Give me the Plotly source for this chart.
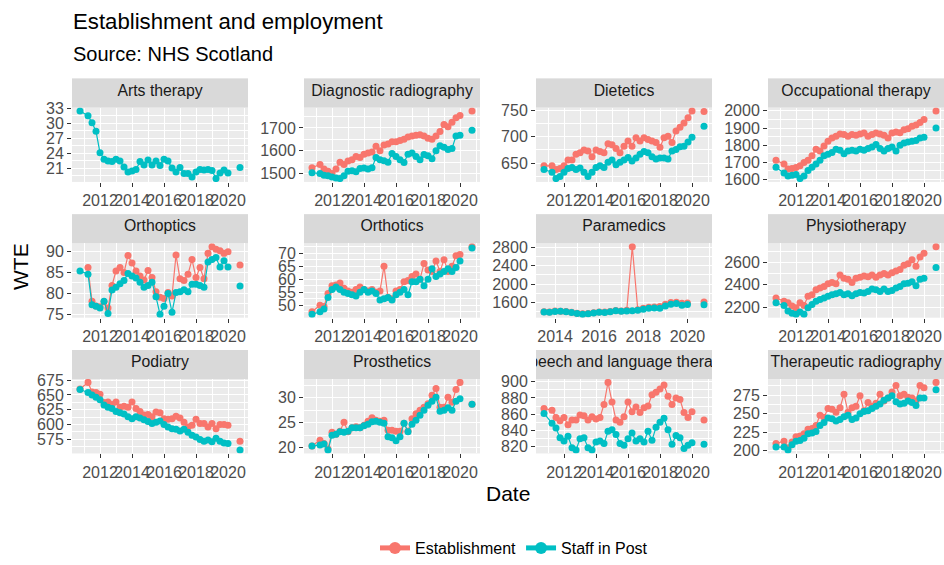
import plotly.graph_objects as go

FIG_W, FIG_H = 944, 565
FONT = "Liberation Sans, Arial, sans-serif"
EST_COLOR = "#F8766D"
STAFF_COLOR = "#00BFC4"

# Quarter-end positions (decimal years); the final figure follows a gap in the series
QUARTERS = [2010.75, 2011.25, 2011.5, 2011.75, 2012.0, 2012.25, 2012.5, 2012.75,
            2013.0, 2013.25, 2013.5, 2013.75, 2014.0, 2014.25, 2014.5, 2014.75,
            2015.0, 2015.25, 2015.5, 2015.75, 2016.0, 2016.25, 2016.5, 2016.75,
            2017.0, 2017.25, 2017.5, 2017.75, 2018.0, 2018.25, 2018.5, 2018.75,
            2019.0, 2019.25, 2019.5, 2019.75, 2020.0, 2020.75]
PARAMEDIC_QUARTERS = [2013.5, 2013.75, 2014.0, 2014.25, 2014.5, 2014.75, 2015.0,
                      2015.25, 2015.5, 2015.75, 2016.0, 2016.25, 2016.5, 2016.75,
                      2017.0, 2017.25, 2017.5, 2017.75, 2018.0, 2018.25, 2018.5,
                      2018.75, 2019.0, 2019.25, 2019.5, 2019.75, 2020.0, 2020.75]

YEAR_TICKS = [2012, 2014, 2016, 2018, 2020]
PARAMEDIC_YEAR_TICKS = [2014, 2016, 2018, 2020]

# Whole-time-equivalent figures by profession
ARTS_EST = [None] * 38
ARTS_STAFF = [32.5, 31.5, 30.1, 28.4, 24.1, 22.8, 22.4, 22.3, 22.8, 22.4, 21.2, 20.2,
              20.4, 20.7, 22.3, 21.6, 22.6, 21.6, 22.4, 21.5, 22.8, 22.4, 21.0, 20.2,
              21.1, 19.9, 19.9, 19.2, 20.2, 20.7, 20.6, 20.7, 20.5, 18.9, 20.0, 20.6,
              20.0, 21.1]

DIAG_EST = [1525, 1540, 1520, 1510, 1500, 1520, 1550, 1540, 1555, 1560, 1575, 1570,
            1585, 1590, 1595, 1620, 1600, 1625, 1630, 1640, 1640, 1645, 1650, 1660,
            1665, 1668, 1670, 1665, 1655, 1650, 1665, 1685, 1715, 1705, 1725, 1745,
            1755, 1775]
DIAG_STAFF = [1503, 1500, 1492, 1490, 1485, 1480, 1478, 1490, 1510, 1512, 1508, 1522,
              1524, 1520, 1525, 1570, 1560, 1556, 1550, 1588, 1575, 1560, 1548, 1585,
              1590, 1575, 1560, 1583, 1578, 1565, 1600, 1622, 1615, 1605, 1610, 1665,
              1668, 1690]

DIET_EST = [645, 645, 638, 640, 645, 656, 656, 667, 670, 675, 673, 662, 675, 672,
            670, 687, 685, 678, 670, 682, 692, 682, 698, 692, 698, 695, 692, 689,
            680, 698, 701, 689, 711, 718, 726, 736, 749, 748]
DIET_STAFF = [638, 633, 621, 625, 633, 640, 642, 638, 641, 633, 625, 633, 642, 645,
              642, 652, 656, 647, 652, 656, 661, 654, 660, 667, 672, 670, 662, 658,
              660, 660, 658, 673, 676, 681, 682, 690, 699, 720]

OT_EST = [1713, 1690, 1662, 1665, 1670, 1680, 1700, 1713, 1738, 1776, 1766, 1795,
          1823, 1842, 1852, 1866, 1862, 1852, 1862, 1858, 1866, 1871, 1852, 1862,
          1871, 1866, 1858, 1842, 1871, 1877, 1872, 1890, 1896, 1910, 1918, 1933,
          1950, 2000]
OT_STAFF = [1672, 1638, 1620, 1625, 1630, 1606, 1620, 1653, 1672, 1690, 1713, 1738,
            1748, 1757, 1776, 1770, 1751, 1766, 1770, 1766, 1776, 1770, 1781, 1789,
            1804, 1781, 1766, 1781, 1789, 1766, 1800, 1813, 1819, 1823, 1827, 1842,
            1846, 1900]

ORTHOPTICS_EST = [None, 86.2, 78.1, 77.0, 76.8, 78.0, 76.5, 81.9, 85.4, 86.2, 85.0,
                  89.1, 87.3, 85.4, 84.2, 83.2, 85.5, 83.8, 80.4, 79.1, 78.8, 80.2,
                  79.4, 89.2, 83.5, 83.1, 84.6, 88.1, 83.8, 86.2, 83.5, 89.6, 91.2,
                  90.6, 90.2, 89.6, 90.0, 86.8]
ORTHOPTICS_STAFF = [85.4, 84.6, 77.3, 76.9, 76.5, 78.1, 75.2, 80.8, 81.5, 82.3, 83.1,
                    84.8, 84.2, 83.7, 82.7, 81.5, 81.9, 82.7, 79.2, 75.0, 76.9, 80.0,
                    75.5, 80.2, 80.4, 80.9, 80.4, 82.2, 82.2, 81.9, 81.5, 87.5, 88.1,
                    88.6, 86.3, 87.8, 86.3, 81.8]

ORTHOTICS_EST = [47.5, 50, 49.5, 54.5, 57.5, 57.8, 58.5, 56.5, 55.5, 55, 56, 57, 56,
                 55.5, 56, 55, 55.5, 65, 53, 52.5, 55.5, 56, 59, 59.5, 61, 62, 60, 66,
                 63.5, 63, 67, 63, 67.5, 63, 65, 69, 69.5, 72.5]
ORTHOTICS_STAFF = [46.5, 47.5, 48.5, 53, 56, 57, 56, 55, 54.5, 54, 53.5, 55, 56, 55,
                   55.5, 54.5, 52, 52.5, 53, 52, 54, 55, 56, 54, 59, 59, 60, 57.5, 60,
                   64, 61, 62, 63, 64, 63, 64.5, 67, 72]

PARAMEDIC_EST = [1395, 1390, 1410, 1405, 1400, 1385, 1365, 1350, 1360, 1375, 1390,
                 1390, 1400, 1425, 1410, 1430, 2820, 1440, 1470, 1495, 1500, 1510,
                 1560, 1600, 1605, 1580, 1590, 1610]
PARAMEDIC_STAFF = [1390, 1385, 1400, 1405, 1395, 1380, 1360, 1340, 1350, 1370, 1385,
                   1380, 1395, 1420, 1405, 1415, 1420, 1430, 1450, 1470, 1480, 1475,
                   1520, 1560, 1575, 1540, 1555, 1550]

PHYSIO_EST = [2282, 2253, 2240, 2209, 2194, 2238, 2215, 2297, 2312, 2356, 2371, 2385,
              2409, 2421, 2409, 2488, 2459, 2450, 2421, 2459, 2468, 2479, 2473, 2488,
              2468, 2488, 2503, 2488, 2509, 2526, 2538, 2576, 2591, 2626, 2568, 2650,
              2685, 2744]
PHYSIO_STAFF = [2238, 2215, 2165, 2144, 2135, 2156, 2135, 2194, 2224, 2253, 2268, 2282,
                2297, 2312, 2320, 2332, 2312, 2320, 2303, 2321, 2332, 2326, 2341, 2362,
                2356, 2341, 2362, 2341, 2350, 2371, 2385, 2409, 2415, 2429, 2391, 2450,
                2459, 2556]

PODIATRY_EST = [660, 671, 655, 654, 651, 637, 638, 634, 638, 629, 631, 629, 638, 627,
                622, 616, 617, 613, 621, 620, 610, 609, 610, 614, 611, 604, 596, 599,
                609, 602, 602, 596, 602, 593, 600, 600, 599, 572]
PODIATRY_STAFF = [659, 654, 650, 646, 642, 633, 629, 627, 622, 620, 618, 613, 610, 613,
                  611, 608, 605, 602, 604, 606, 600, 596, 593, 592, 589, 592, 587, 582,
                  579, 575, 572, 574, 571, 577, 572, 569, 568, 557]

PROSTHETICS_EST = [20.3, 21.5, 20.8, 19.7, 23.1, 22.7, 23.3, 25.1, 23.2, 24.0, 24.2,
                   24.0, 24.5, 25.3, 26.0, 25.5, 25.3, 25.5, 23.5, 23.5, 23.3, 23.3,
                   24.9, 23.3, 25.8, 26.8, 27.5, 28.1, 28.8, 30.5, 31.9, 28.1, 28.1,
                   30.1, 29.1, 31.7, 33.1, 28.7]
PROSTHETICS_STAFF = [20.3, 20.5, 20.7, 19.5, 22.5, 22.7, 23.2, 23.1, 23.3, 24.0, 24.0,
                     24.0, 24.4, 24.7, 25.2, 25.3, 25.1, 24.9, 22.2, 22.0, 21.4, 22.2,
                     24.9, 23.2, 24.7, 25.5, 26.5, 27.5, 28.5, 29.3, 30.1, 27.3, 27.5,
                     28.0, 27.5, 29.3, 29.8, 28.7]

SLT_EST = [867, 865, 856, 852, 856, 847, 853, 853, 859, 858, 853, 857, 854, 856, 872,
           899, 875, 853, 850, 857, 875, 863, 869, 862, 868, 870, 884, 887, 891, 896,
           882, 872, 880, 878, 862, 856, 863, 853]
SLT_STAFF = [861, 849, 843, 831, 827, 833, 819, 816, 830, 831, 819, 816, 826, 827, 824,
             839, 841, 835, 824, 822, 830, 837, 827, 830, 826, 839, 828, 844, 850, 855,
             841, 823, 834, 831, 818, 822, 825, 823]

THER_RAD_EST = [210, 213, 204, 212, 219, 220, 223, 229, 230, 234, 248, 245, 257, 256,
                252, 258, 276, 252, 258, 260, 274, 254, 265, 260, 264, 276, 267, 271,
                279, 288, 274, 276, 272, 271, 267, 288, 285, 292]
THER_RAD_STAFF = [205, 205, 201, 208, 213, 214, 217, 223, 224, 226, 234, 238, 244, 243,
                  240, 242, 246, 248, 242, 244, 250, 253, 254, 257, 260, 263, 268, 271,
                  274, 266, 263, 264, 267, 265, 261, 271, 271, 282]

PANELS = [
    ("Arts therapy", QUARTERS, ARTS_EST, ARTS_STAFF, YEAR_TICKS, [21, 24, 27, 30, 33]),
    ("Diagnostic radiography", QUARTERS, DIAG_EST, DIAG_STAFF, YEAR_TICKS, [1500, 1600, 1700]),
    ("Dietetics", QUARTERS, DIET_EST, DIET_STAFF, YEAR_TICKS, [650, 700, 750]),
    ("Occupational therapy", QUARTERS, OT_EST, OT_STAFF, YEAR_TICKS, [1600, 1700, 1800, 1900, 2000]),
    ("Orthoptics", QUARTERS, ORTHOPTICS_EST, ORTHOPTICS_STAFF, YEAR_TICKS, [75, 80, 85, 90]),
    ("Orthotics", QUARTERS, ORTHOTICS_EST, ORTHOTICS_STAFF, YEAR_TICKS, [50, 55, 60, 65, 70]),
    ("Paramedics", PARAMEDIC_QUARTERS, PARAMEDIC_EST, PARAMEDIC_STAFF, PARAMEDIC_YEAR_TICKS,
     [1600, 2000, 2400, 2800]),
    ("Physiotherapy", QUARTERS, PHYSIO_EST, PHYSIO_STAFF, YEAR_TICKS, [2200, 2400, 2600]),
    ("Podiatry", QUARTERS, PODIATRY_EST, PODIATRY_STAFF, YEAR_TICKS, [575, 600, 625, 650, 675]),
    ("Prosthetics", QUARTERS, PROSTHETICS_EST, PROSTHETICS_STAFF, YEAR_TICKS, [20, 25, 30]),
    ("Speech and language therapy", QUARTERS, SLT_EST, SLT_STAFF, YEAR_TICKS,
     [820, 840, 860, 880, 900]),
    ("Therapeutic radiography", QUARTERS, THER_RAD_EST, THER_RAD_STAFF, YEAR_TICKS,
     [200, 225, 250, 275]),
]

# Facet grid geometry (pixels)
COL_LEFT = [72, 304, 536, 768]
PANEL_W = 176
ROW_TOP = [104, 244.5, 385]
PANEL_H = 77
STRIP_H = 30


def px_x(v):
    return v / FIG_W


def px_y(v):
    return 1 - v / FIG_H


def with_gap(seq):
    # break the line before the final, detached observation
    return list(seq[:-1]) + [None] + list(seq[-1:])


def padded(values):
    vals = [v for v in values if v is not None]
    lo, hi = min(vals), max(vals)
    pad = 0.05 * (hi - lo)
    return [lo - pad, hi + pad]


def minor_between(ticks):
    step = ticks[1] - ticks[0]
    return [t - step / 2 for t in ticks] + [ticks[-1] + step / 2]


fig = go.Figure()
layout = {}
shapes = []

for i, (name, xs, est, staff, xticks, yticks) in enumerate(PANELS):
    r, c = divmod(i, 4)
    n = i + 1
    sfx = "" if n == 1 else str(n)
    left, top = COL_LEFT[c], ROW_TOP[r]

    for label, vals, color in (("Establishment", est, EST_COLOR),
                               ("Staff in Post", staff, STAFF_COLOR)):
        fig.add_trace(go.Scatter(
            x=with_gap(xs), y=with_gap(vals), mode="lines+markers", name=label,
            legendgroup=label, showlegend=(i == 0), connectgaps=False,
            line=dict(color=color, width=1.2), marker=dict(color=color, size=7),
            xaxis="x" + sfx, yaxis="y" + sfx, hoverinfo="skip"))

    common = dict(showline=False, zeroline=False, ticks="outside", ticklen=4,
                  tickwidth=1.1, tickcolor="#333333", showgrid=True,
                  gridcolor="#FFFFFF", gridwidth=1.1, tickangle=0,
                  tickfont=dict(family=FONT, size=16, color="#4D4D4D"),
                  fixedrange=True, tickmode="array")
    layout["xaxis" + sfx] = dict(
        common, domain=[px_x(left), px_x(left + PANEL_W)], range=padded(xs),
        tickvals=xticks, ticktext=[str(t) for t in xticks], anchor="y" + sfx,
        minor=dict(tickvals=minor_between(xticks), showgrid=True,
                   gridcolor="#FFFFFF", gridwidth=0.55, ticks=""))
    layout["yaxis" + sfx] = dict(
        common, domain=[px_y(top + PANEL_H), px_y(top)], range=padded(est + staff),
        tickvals=yticks, ticktext=[str(t) for t in yticks], anchor="x" + sfx,
        minor=dict(tickvals=minor_between(yticks), showgrid=True,
                   gridcolor="#FFFFFF", gridwidth=0.55, ticks=""))

    # strip: its own hidden subplot so the label is clipped to the strip
    s = 12 + n
    layout[f"xaxis{s}"] = dict(domain=[px_x(left), px_x(left + PANEL_W)], range=[0, 1],
                               visible=False, fixedrange=True, anchor=f"y{s}")
    layout[f"yaxis{s}"] = dict(domain=[px_y(top), px_y(top - STRIP_H)], range=[0, 1],
                               visible=False, fixedrange=True, anchor=f"x{s}")
    fig.add_trace(go.Scatter(
        x=[0.5], y=[0.55], mode="text", text=[name], cliponaxis=True,
        textfont=dict(family=FONT, size=15.8, color="#1A1A1A"),
        xaxis=f"x{s}", yaxis=f"y{s}", showlegend=False, hoverinfo="skip"))
    shapes.append(dict(type="rect", xref="paper", yref="paper", layer="below",
                       x0=px_x(left), x1=px_x(left + PANEL_W),
                       y0=px_y(top), y1=px_y(top - STRIP_H),
                       fillcolor="#D9D9D9", line=dict(width=0)))

annotations = [
    dict(text="Establishment and employment", x=px_x(71), y=px_y(15), xanchor="left",
         yanchor="middle", font=dict(family=FONT, size=22.2, color="#000000")),
    dict(text="Source: NHS Scotland", x=px_x(71), y=px_y(48.5), xanchor="left",
         yanchor="middle", font=dict(family=FONT, size=20, color="#000000")),
    dict(text="WTE", x=px_x(21), y=px_y(269), textangle=-90, xanchor="center",
         yanchor="middle", font=dict(family=FONT, size=21, color="#000000")),
    dict(text="Date", x=px_x(508), y=px_y(503), xanchor="center", yanchor="middle",
         font=dict(family=FONT, size=21, color="#000000")),
]
for a in annotations:
    a.update(xref="paper", yref="paper", showarrow=False)

fig.update_layout(
    width=FIG_W, height=FIG_H, margin=dict(l=0, r=0, t=0, b=0, pad=0),
    paper_bgcolor="#FFFFFF", plot_bgcolor="#EBEBEB",
    font=dict(family=FONT, color="#000000"),
    showlegend=True, shapes=shapes, annotations=annotations,
    legend=dict(orientation="h", x=px_x(514), xanchor="center", y=px_y(560),
                yanchor="middle", font=dict(family=FONT, size=16, color="#000000"),
                bgcolor="rgba(0,0,0,0)", itemsizing="constant"),
    **layout,
)

fig.write_html("out.html")
